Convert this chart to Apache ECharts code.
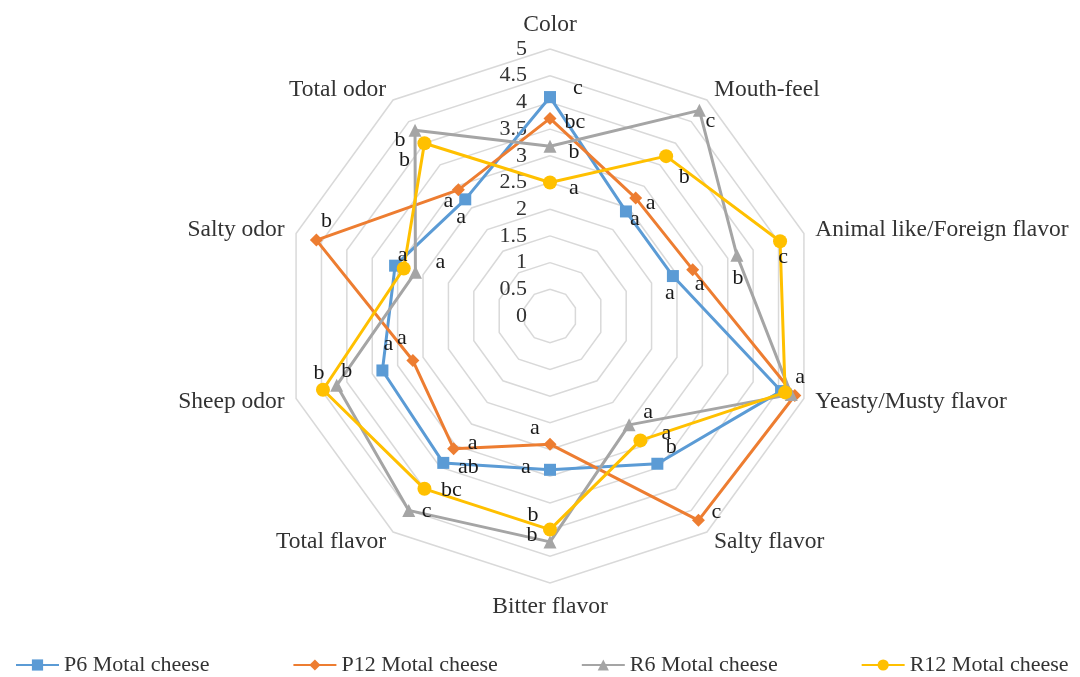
<!DOCTYPE html>
<html>
<head>
<meta charset="utf-8">
<script src="https://cdn.jsdelivr.net/npm/echarts@6/dist/echarts.min.js"></script>
<style>
html, body { margin: 0; padding: 0; background: #fff; }
#radar { width: 1080px; height: 677px; }
</style>
</head>
<body>
<div id="radar"></div>
<script>
// attributes, clockwise from the top
var categories = ['Color', 'Mouth-feel', 'Animal like/Foreign flavor', 'Yeasty/Musty flavor', 'Salty flavor',
                  'Bitter flavor', 'Total flavor', 'Sheep odor', 'Salty odor', 'Total odor'];
var seriesNames = ['P6 Motal cheese', 'P12 Motal cheese', 'R6 Motal cheese', 'R12 Motal cheese'];

var p6  = [4.1, 2.42, 2.42, 4.55, 3.42, 2.88, 3.4, 3.3, 3.05, 2.7];
var p12 = [3.7, 2.73, 2.81, 4.82, 4.73, 2.4, 3.07, 2.7, 4.6, 2.92];
var r6  = [3.18, 4.76, 3.68, 4.75, 2.52, 4.23, 4.5, 4.2, 2.65, 4.3];
var r12 = [2.5, 3.7, 4.53, 4.63, 2.88, 4.0, 4.0, 4.47, 2.88, 4.0];

// significance letters
var p6Letters  = ['c', 'a', 'a', '', 'b', 'a', 'ab', 'a', '', 'a'];
var p12Letters = ['bc', 'a', 'a', '', 'c', 'a', 'a', 'a', 'b', 'a'];
var r6Letters  = ['b', 'c', 'b', '', 'a', 'b', 'c', 'b', 'a', 'b'];
var r12Letters = ['a', 'b', 'c', 'a', 'a', 'b', 'bc', 'b', 'a', 'b'];

var axisMax = 5;

(function(){

    var colors = ['#5B9BD5', '#ED7D31', '#A5A5A5', '#FFC000'];
    var symbols = ['rect', 'diamond', 'triangle', 'circle'];
    var sizes = [12, 13, 13, 14];
    var values = [p6, p12, r6, r12];
    var letters = [p6Letters, p12Letters, r6Letters, r12Letters];
    // where each letter sits relative to its point (px)
    var letterOffsets = [
        [[28,-9],[9,8],[-3,17],[0,0],[14,-17],[-24,-3],[25,4],[6,-26],[0,0],[-4,18]],
        [[25,4],[15,5],[7,15],[0,0],[18,-8],[-15,-16],[19,-5],[-11,-22],[10,-19],[-10,11]],
        [[24,6],[11,11],[1,23],[0,0],[19,-13],[-18,-7],[18,1],[10,-14],[25,-10],[-15,10]],
        [[24,6],[18,21],[3,16],[15,-15],[26,-7],[-17,-14],[27,1],[-4,-17],[-1,-13],[-20,17]]
    ];
    var font = 'Liberation Serif';

    // echarts lays indicators counter-clockwise, the figure goes clockwise
    function radarIndex(i) { return i === 0 ? 0 : categories.length - i; }
    function toRadarOrder(arr) {
        var out = [];
        for (var i = 0; i < arr.length; i++) out[radarIndex(i)] = arr[i];
        return out;
    }

    var indicator = toRadarOrder(categories).map(function (name, i) {
        var ind = { name: name, min: 0, max: axisMax };
        if (i === 0) {
            ind.axisLabel = {
                show: true, showMinLabel: true, margin: 23,
                color: '#333', fontSize: 22, fontFamily: font,
                formatter: function (v) { return String(+v.toFixed(1)); }
            };
        }
        return ind;
    });

    var myChart = echarts.init(document.getElementById('radar'));

    var series = [];
    // empty line series only to get the line+marker legend icons
    seriesNames.forEach(function (name, k) {
        series.push({
            name: name, type: 'line', data: [],
            symbol: symbols[k], symbolSize: sizes[k],
            itemStyle: { color: colors[k] },
            lineStyle: { color: colors[k], width: 3 }
        });
    });
    seriesNames.forEach(function (name, k) {
        series.push({
            name: name, type: 'radar',
            symbol: symbols[k], symbolSize: sizes[k],
            itemStyle: { color: colors[k] },
            lineStyle: { color: colors[k], width: 3 },
            z: 2 + k,
            data: [{ value: toRadarOrder(values[k]), name: name }]
        });
    });

    option = {
        animation: false,
        backgroundColor: '#fff',
        legend: {
            left: 10,
            top: 649,
            width: 1070,
            padding: [5, 0, 5, 5],
            itemGap: 83,
            itemWidth: 43,
            itemHeight: 14,
            data: seriesNames,
            textStyle: { color: '#333', fontSize: 22, fontFamily: font }
        },
        grid: { left: 0, top: 0, width: 1, height: 1, show: false },
        xAxis: { type: 'category', show: false },
        yAxis: { type: 'value', show: false },
        radar: {
            center: [550, 316],
            radius: 267,
            startAngle: 90,
            shape: 'polygon',
            splitNumber: 10,
            nameGap: 12,
            axisName: { color: '#333', fontSize: 23.5, fontFamily: font },
            axisLine: { show: false },
            axisTick: { show: false },
            axisLabel: { show: false },
            splitArea: { show: false },
            splitLine: { lineStyle: { color: '#D9D9D9', width: 1.5 } },
            indicator: indicator
        },
        series: series
    };

    myChart.setOption(option);

    // significance letters, placed through the radar coordinate system
    var radarCS = myChart.getModel().getComponent('radar').coordinateSystem;
    var texts = [];
    values.forEach(function (vals, k) {
        vals.forEach(function (v, i) {
            var txt = letters[k][i];
            if (!txt) return;
            var pt = radarCS.dataToPoint(v, radarIndex(i));
            texts.push({
                type: 'text',
                x: pt[0] + letterOffsets[k][i][0],
                y: pt[1] + letterOffsets[k][i][1],
                z: 100,
                style: {
                    text: txt, fill: '#1a1a1a',
                    font: '22px "' + font + '"',
                    align: 'center', verticalAlign: 'middle'
                }
            });
        });
    });
    myChart.setOption({ graphic: texts });
})();
</script>
</body>
</html>
